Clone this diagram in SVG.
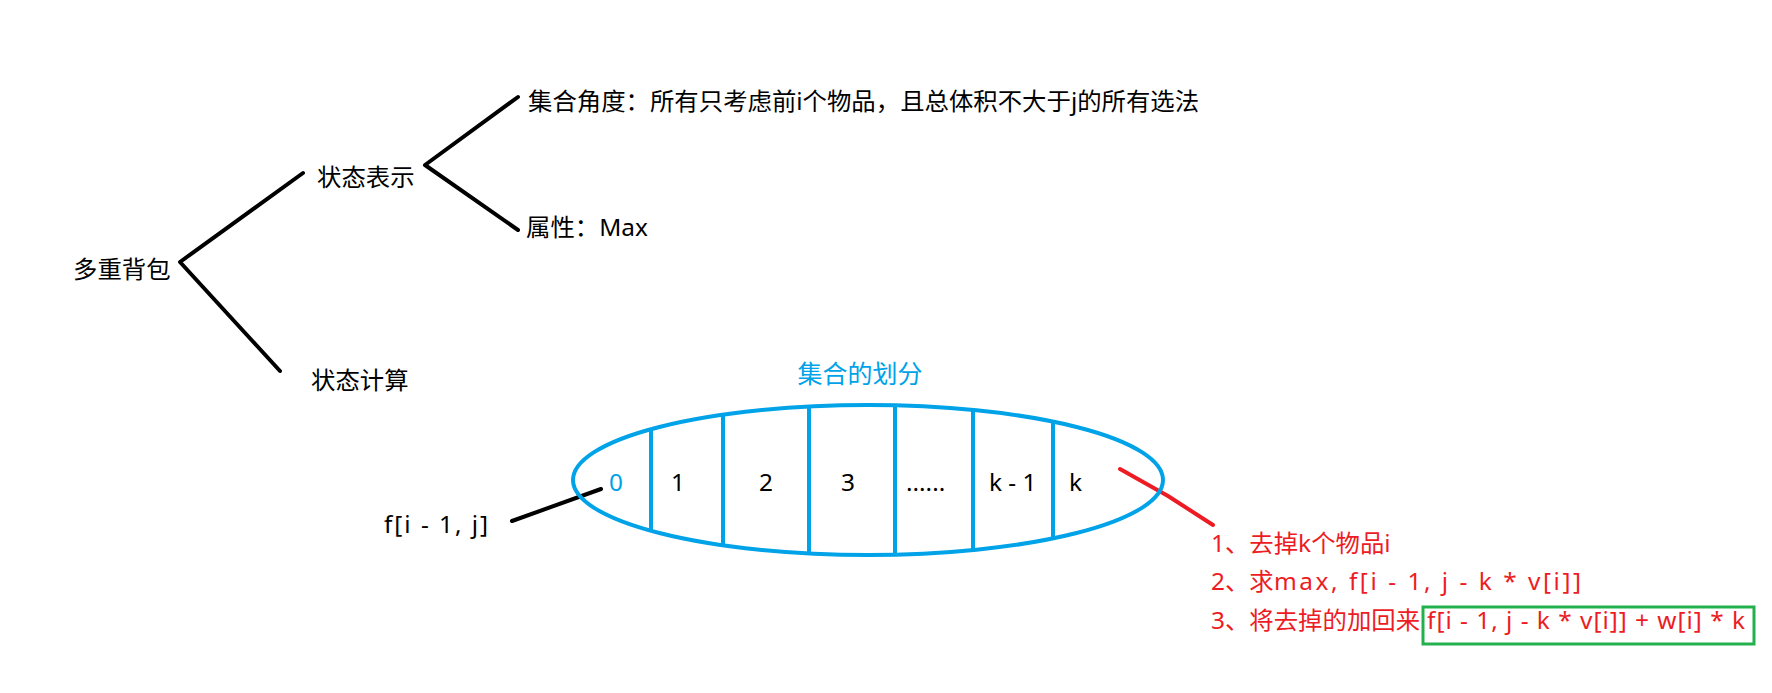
<svg xmlns="http://www.w3.org/2000/svg" width="1772" height="693" viewBox="0 0 1772 693">
<style>
text{font-family:"Noto Sans","Noto Sans CJK SC","Microsoft YaHei",sans-serif;font-size:24.4px;fill:#000}
.blue{fill:#00a2e8}
.red{fill:#ed1c24}
.bl{stroke:#000;stroke-width:4;fill:none;stroke-linecap:round;stroke-linejoin:round}
.bu{stroke:#00a2e8;stroke-width:4;fill:none}
.rd{stroke:#ed1c24;stroke-width:4;fill:none;stroke-linecap:round;stroke-linejoin:round}
</style>
<rect width="1772" height="693" fill="#fff"/>
<g id="connectors">
<polyline class="bl" points="303,173 180,262 280,371"/>
<polyline class="bl" points="518,97 425,165 518,230"/>
<line class="bl" x1="512" y1="521" x2="601" y2="489"/>
<polyline class="rd" points="1120,469 1168,496 1213,525"/>
</g>
<g id="root"><text x="73" y="278">多重背包</text></g>
<g id="state-repr"><text x="317" y="186">状态表示</text></g>
<g id="set-view"><text x="528" y="110">集合角度：所有只考虑前i个物品，且总体积不大于j的所有选法</text></g>
<g id="attr"><text x="526" y="236">属性：Max</text></g>
<g id="state-calc"><text x="311" y="389">状态计算</text></g>
<g id="partition">
<text class="blue" x="860" y="383" text-anchor="middle" style="font-size:25px">集合的划分</text>
<ellipse class="bu" cx="868" cy="480" rx="295" ry="75"/>
<line class="bu" x1="651" y1="428" x2="651" y2="532"/>
<line class="bu" x1="723" y1="414" x2="723" y2="546"/>
<line class="bu" x1="809" y1="405" x2="809" y2="555"/>
<line class="bu" x1="895" y1="404" x2="895" y2="556"/>
<line class="bu" x1="973" y1="409" x2="973" y2="551"/>
<line class="bu" x1="1053" y1="420" x2="1053" y2="540"/>
<text class="blue" x="609" y="491">0</text>
<text x="671" y="491">1</text>
<text x="759" y="491">2</text>
<text x="841" y="491">3</text>
<text x="906" y="491">......</text>
<text x="989" y="491">k - 1</text>
<text x="1069" y="491">k</text>
</g>
<g id="f-prev"><text x="384" y="533" textLength="104" lengthAdjust="spacing">f[i - 1, j]</text></g>
<g id="steps">
<text class="red" x="1211" y="552">1、去掉k个物品i</text>
<text class="red" x="1211" y="590">2、求</text>
<text class="red" x="1274" y="590" textLength="307" lengthAdjust="spacing">max, f[i - 1, j - k * v[i]]</text>
<text class="red" x="1211" y="629">3、将去掉的加回来</text>
<text class="red" x="1427" y="629" textLength="318" lengthAdjust="spacing">f[i - 1, j - k * v[i]] + w[i] * k</text>
<rect x="1423" y="607" width="331" height="37" fill="none" stroke="#22b14c" stroke-width="3"/>
</g>
</svg>
